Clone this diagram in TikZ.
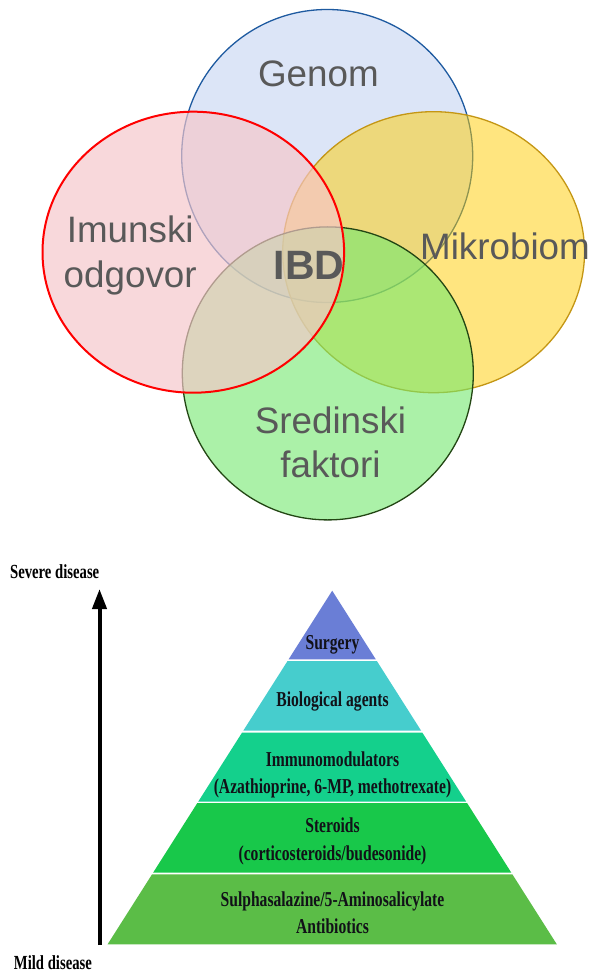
\documentclass[tikz,border=0pt]{standalone}
\usepackage{graphicx}
\usepackage{fontspec}
\setmainfont{Liberation Serif}
\newfontfamily\vennfont{Liberation Sans}
\usetikzlibrary{arrows.meta}

% Venn fill colours (drawn translucent, in the order blue, yellow, green, red)
\definecolor{vennblue}{RGB}{220,229,247}
\definecolor{vennblueline}{RGB}{30,90,160}
\definecolor{vennyellow}{RGB}{255,205,1}
\definecolor{vennyellowline}{RGB}{196,150,20}
\definecolor{venngreen}{RGB}{115,233,110}
\definecolor{venngreenline}{RGB}{35,70,20}
\definecolor{vennred}{RGB}{246,198,202}
\definecolor{vennredline}{RGB}{255,0,0}
\definecolor{venntext}{RGB}{89,89,89}
% pyramid band colours
\definecolor{pyrsurgery}{RGB}{106,126,214}
\definecolor{pyrbio}{RGB}{70,205,205}
\definecolor{pyrimmuno}{RGB}{20,208,140}
\definecolor{pyrsteroid}{RGB}{24,200,74}
\definecolor{pyrbase}{RGB}{91,189,71}
\definecolor{pyrink}{RGB}{17,17,24}

\newcommand\stretchtxt[1]{\scalebox{1}[1.36]{#1}}

\tikzset{
  venntxt/.style={font=\vennfont\fontsize{36.8}{44}\selectfont, text=venntext,
                  inner sep=0pt, anchor=base},
  venncore/.style={font=\vennfont\bfseries\fontsize{41}{48}\selectfont, text=venntext,
                  inner sep=0pt, anchor=base},
  pyrlabel/.style={font=\bfseries\fontsize{15.6}{18}\selectfont, text=pyrink,
                  inner sep=0pt, anchor=base},
  axislabel/.style={font=\bfseries\fontsize{14.7}{17}\selectfont, text=black,
                  inner sep=0pt, anchor=base},
}

\begin{document}
\begin{tikzpicture}[x=1pt,y=-1pt]
\fill[white] (0,0) rectangle (597,973);
\useasboundingbox (0,0) rectangle (597,973);

% ---- Venn diagram: four overlapping sets ----
\path[fill=vennblue, draw=vennblueline, line width=1.3pt]
  (327.2,156) ellipse [x radius=145.5pt, y radius=146.5pt];
\path[fill=vennyellow, fill opacity=0.5, draw=vennyellowline, line width=1.3pt]
  (433.6,252.2) ellipse [x radius=150.9pt, y radius=140.5pt];
\path[fill=venngreen, fill opacity=0.6, draw=venngreenline, line width=1.3pt]
  (327.8,373.4) ellipse [x radius=145.5pt, y radius=146.5pt];
\path[fill=vennred, fill opacity=0.67, draw=vennredline, line width=2pt]
  (193.3,252.2) ellipse [x radius=150.8pt, y radius=140.5pt];

\node[venntxt] (genom) at (318.4,86.3) {Genom};
\node[venntxt] (imunski) at (130.2,242.7) {Imunski};
\node[venntxt] (odgovor) at (130.2,287.2) {odgovor};
\node[venncore] (ibd) at (309,279.5) {IBD};
\node[venntxt] (mikrobiom) at (505,259.3) {Mikrobiom};
\node[venntxt] (sredinski) at (330.5,433.2) {Sredinski};
\node[venntxt] (faktori) at (330.5,477.2) {faktori};

% ---- Treatment pyramid: bands between y-levels, apex at (332.2,590.7) ----
\foreach \ya/\yb/\col in {590.7/659.3/pyrsurgery, 661/730.7/pyrbio,
                           732.7/801.7/pyrimmuno, 803.2/872.7/pyrsteroid,
                           874.3/944.3/pyrbase}{
  \pgfmathsetmacro\wa{(\ya-590.7)*0.6352}
  \pgfmathsetmacro\wb{(\yb-590.7)*0.6352}
  \fill[\col] (332.2-\wa,\ya) -- (332.2+\wa,\ya) -- (332.2+\wb,\yb)
              -- (332.2-\wb,\yb) -- cycle;
}

\node[pyrlabel] (surgery) at (332.5,649.3) {\stretchtxt{Surgery}};
\node[pyrlabel] (bio) at (332.5,706.7) {\stretchtxt{Biological agents}};
\node[pyrlabel] (immuno) at (332.5,766.7) {\stretchtxt{Immunomodulators}};
\node[pyrlabel] (immunolist) at (332.5,793) {\stretchtxt{(Azathioprine, 6-MP, methotrexate)}};
\node[pyrlabel] (steroids) at (332.5,832.7) {\stretchtxt{Steroids}};
\node[pyrlabel] (steroidlist) at (332.5,860) {\stretchtxt{(corticosteroids/budesonide)}};
\node[pyrlabel] (sulpha) at (332.5,906.7) {\stretchtxt{Sulphasalazine/5-Aminosalicylate}};
\node[pyrlabel] (antibiotics) at (332.5,933.3) {\stretchtxt{Antibiotics}};

% ---- Severity axis ----
\node[axislabel] (severe) at (54.7,578.3) {\stretchtxt{Severe disease}};
\node[axislabel] (mild) at (52.9,969.3) {\stretchtxt{Mild disease}};
\coordinate (axislow) at (99.5,945);
\coordinate (axishigh) at (99.5,589);
\draw[line width=4pt, -{Triangle[width=14pt,length=20pt]}] (axislow) -- (axishigh);
\end{tikzpicture}
\end{document}
